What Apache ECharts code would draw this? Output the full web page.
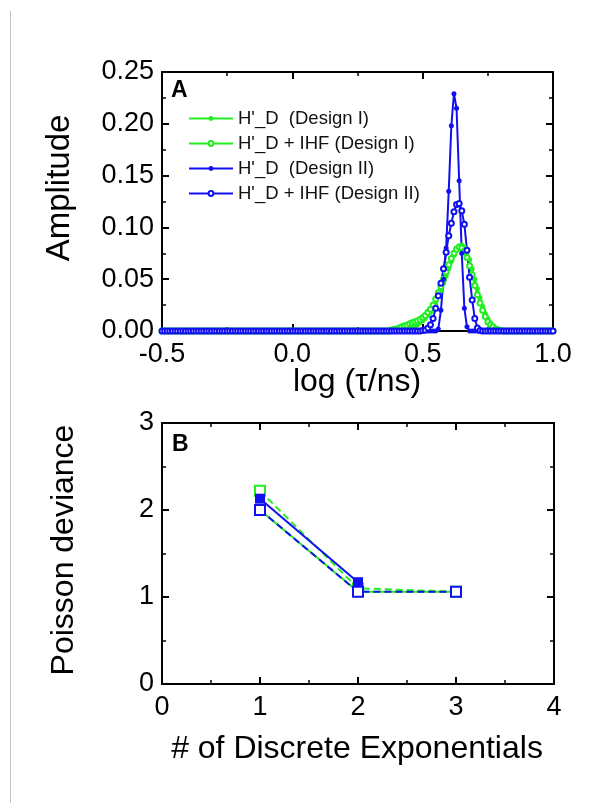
<!DOCTYPE html>
<html><head><meta charset="utf-8">
<script src="https://cdn.jsdelivr.net/npm/echarts/dist/echarts.min.js"></script>
<style>html,body{margin:0;padding:0;background:#fff}#c{width:597px;height:803px}</style>
</head><body><div id="c"></div>
<script>
// ---------- Panel A data ----------
const logTau = [
-0.50,-0.49,-0.48,-0.47,-0.46,-0.45,-0.44,-0.43,-0.42,-0.41,
-0.40,-0.39,-0.38,-0.37,-0.36,-0.35,-0.34,-0.33,-0.32,-0.31,
-0.30,-0.29,-0.28,-0.27,-0.26,-0.25,-0.24,-0.23,-0.22,-0.21,
-0.20,-0.19,-0.18,-0.17,-0.16,-0.15,-0.14,-0.13,-0.12,-0.11,
-0.10,-0.09,-0.08,-0.07,-0.06,-0.05,-0.04,-0.03,-0.02,-0.01,
0.00,0.01,0.02,0.03,0.04,0.05,0.06,0.07,0.08,0.09,
0.10,0.11,0.12,0.13,0.14,0.15,0.16,0.17,0.18,0.19,
0.20,0.21,0.22,0.23,0.24,0.25,0.26,0.27,0.28,0.29,
0.30,0.31,0.32,0.33,0.34,0.35,0.36,0.37,0.38,0.39,
0.40,0.41,0.42,0.43,0.44,0.45,0.46,0.47,0.48,0.49,
0.50,0.51,0.52,0.53,0.54,0.55,0.56,0.57,0.58,0.59,
0.60,0.61,0.62,0.63,0.64,0.65,0.66,0.67,0.68,0.69,
0.70,0.71,0.72,0.73,0.74,0.75,0.76,0.77,0.78,0.79,
0.80,0.81,0.82,0.83,0.84,0.85,0.86,0.87,0.88,0.89,
0.90,0.91,0.92,0.93,0.94,0.95,0.96,0.97,0.98,0.99,
1.00];

// H'_D (Design I)
const ampDesignI = [
0,0,0,0,0,0,0,0,0,0,
0,0,0,0,0,0,0,0,0,0,
0,0,0,0,0,0,0,0,0,0,
0,0,0,0,0,0,0,0,0,0,
0,0,0,0,0,0,0,0,0,0,
0,0,0,0,0,0,0,0,0,0,
0,0,0,0,0,0,0,0,0,0,
0,0,0,0,0,0,0,0,0,0,
0,0,0,0,0,0,0,0,0,0,
0,0,0,0,0.001,0.002,0.003,0.004,0.006,0.008,
0.010,0.012,0.015,0.018,0.022,0.027,0.033,0.039,0.046,0.053,
0.060,0.067,0.073,0.078,0.082,0.083,0.081,0.076,0.069,0.060,
0.050,0.041,0.032,0.024,0.017,0.012,0.008,0.005,0.003,0.002,
0.001,0,0,0,0,0,0,0,0,0,
0,0,0,0,0,0,0,0,0,0,
0];

// H'_D + IHF (Design I)
const ampDesignI_IHF = [
0,0,0,0,0,0,0,0,0,0,
0,0,0,0,0,0,0,0,0,0,
0,0,0,0,0,0,0,0,0,0,
0,0,0,0,0,0,0,0,0,0,
0,0,0,0,0,0,0,0,0,0,
0,0,0,0,0,0,0,0,0,0,
0,0,0,0,0,0,0,0,0,0,
0,0,0,0,0,0,0,0,0,0,
0,0,0,0,0,0,0,0,0.001,0.0015,
0.002,0.003,0.004,0.005,0.0055,0.007,0.008,0.009,0.010,0.011,
0.013,0.015,0.018,0.021,0.025,0.031,0.037,0.043,0.050,0.057,
0.064,0.070,0.075,0.079,0.081,0.080,0.077,0.071,0.063,0.054,
0.044,0.035,0.027,0.020,0.014,0.009,0.006,0.004,0.002,0.001,
0.0005,0,0,0,0,0,0,0,0,0,
0,0,0,0,0,0,0,0,0,0,
0];

// H'_D (Design II)
const ampDesignII = [
0,0,0,0,0,0,0,0,0,0,
0,0,0,0,0,0,0,0,0,0,
0,0,0,0,0,0,0,0,0,0,
0,0,0,0,0,0,0,0,0,0,
0,0,0,0,0,0,0,0,0,0,
0,0,0,0,0,0,0,0,0,0,
0,0,0,0,0,0,0,0,0,0,
0,0,0,0,0,0,0,0,0,0,
0,0,0,0,0,0,0,0,0,0,
0,0,0,0,0,0,0,0,0,0,
0,0,0,0,0,0,0.002,0.020,0.050,0.080,
0.135,0.198,0.229,0.215,0.145,0.075,0.022,0.004,0,0,
0,0,0,0,0,0,0,0,0,0,
0,0,0,0,0,0,0,0,0,0,
0,0,0,0,0,0,0,0,0,0,
0];

// H'_D + IHF (Design II)
const ampDesignII_IHF = [
0,0,0,0,0,0,0,0,0,0,
0,0,0,0,0,0,0,0,0,0,
0,0,0,0,0,0,0,0,0,0,
0,0,0,0,0,0,0,0,0,0,
0,0,0,0,0,0,0,0,0,0,
0,0,0,0,0,0,0,0,0,0,
0,0,0,0,0,0,0,0,0,0,
0,0,0,0,0,0,0,0,0,0,
0,0,0,0,0,0,0,0,0,0,
0,0,0,0,0,0,0,0,0,0,
0.0005,0.001,0.003,0.006,0.012,0.022,0.034,0.046,0.060,0.076,
0.092,0.104,0.115,0.122,0.123,0.116,0.103,0.078,0.052,0.030,
0.012,0.003,0.0005,0,0,0,0,0,0,0,
0,0,0,0,0,0,0,0,0,0,
0,0,0,0,0,0,0,0,0,0,
0];

const seriesNamesA = ["H'_D  (Design I)", "H'_D + IHF (Design I)", "H'_D  (Design II)", "H'_D + IHF (Design II)"];
const xTicksA = [-0.5, 0.0, 0.5, 1.0];
const xTickLabelsA = ['-0.5', '0.0', '0.5', '1.0'];
const yTicksA = [0, 0.05, 0.10, 0.15, 0.20, 0.25];
const yTickLabelsA = ['0.00', '0.05', '0.10', '0.15', '0.20', '0.25'];

// ---------- Panel B data ----------
const numExp = [1, 2, 3];
const devDesignI = [2.0, 1.06, 1.06];
const devDesignI_IHF = [2.22, 1.10, 1.06];
const numExpDesignII = [1, 2];
const devDesignII = [2.13, 1.17];
const devDesignII_IHF = [2.0, 1.06, 1.06];
const xTicksB = [0, 1, 2, 3, 4];
const xTickLabelsB = ['0', '1', '2', '3', '4'];
const yTicksB = [0, 1, 2, 3];
const yTickLabelsB = ['0', '1', '2', '3'];

// ---------- chart ----------
const GREEN = '#22ee22', BLUE = '#1010f0', BLACK = '#000';
const FONT = 'Liberation Sans, Arial, sans-serif';

function lookup(ticks, labels) {
  return function (v) {
    for (let i = 0; i < ticks.length; i++) if (Math.abs(ticks[i] - v) < 1e-9) return labels[i];
    return '';
  };
}
function axis(extra, showLabel, fmt, margin) {
  return Object.assign({
    type: 'value',
    axisLine: { show: true, onZero: false, lineStyle: { color: BLACK, width: 2 } },
    axisTick: { show: true, inside: true, length: 7, lineStyle: { color: BLACK, width: 2 } },
    minorTick: { show: true, splitNumber: 2, length: 4, lineStyle: { color: BLACK, width: 1.5 } },
    splitLine: { show: false },
    minorSplitLine: { show: false },
    axisLabel: { show: showLabel, color: BLACK, fontSize: 27, fontFamily: FONT, formatter: fmt, margin: margin }
  }, extra);
}
function pairs(xs, ys) { return xs.map((x, i) => [x, ys[i]]); }

const fmtXA = lookup(xTicksA, xTickLabelsA), fmtYA = lookup(yTicksA, yTickLabelsA);
const fmtXB = lookup(xTicksB, xTickLabelsB), fmtYB = lookup(yTicksB, yTickLabelsB);

const chart = echarts.init(document.getElementById('c'), null, { renderer: 'canvas' });

function lineA(name, ys, color, open) {
  return {
    name: name, type: 'line', xAxisIndex: 0, yAxisIndex: 0,
    data: pairs(logTau, ys),
    symbol: open ? 'emptyCircle' : 'circle',
    symbolSize: 5,
    showAllSymbol: true,
    lineStyle: { color: color, width: 2 },
    itemStyle: { color: color, borderWidth: 1.2 },
    emphasis: { disabled: true },
    clip: false
  };
}
function lineB(name, xs, ys, color, open) {
  return {
    name: name, type: 'line', xAxisIndex: 2, yAxisIndex: 2,
    data: pairs(xs, ys),
    symbol: open ? 'emptyRect' : 'rect',
    symbolSize: 10,
    lineStyle: { color: color, width: 2, type: open ? [7, 4] : 'solid' },
    itemStyle: { color: color, borderWidth: 1.6 },
    emphasis: { disabled: true }
  };
}

chart.setOption({
  animation: false,
  backgroundColor: '#fff',
  grid: [
    { left: 162, top: 72, width: 391, height: 259 },
    { left: 162, top: 423, width: 392, height: 261 }
  ],
  xAxis: [
    axis({ gridIndex: 0, position: 'bottom', min: -0.5, max: 1.0, interval: 0.5 }, true, fmtXA, 10),
    axis({ gridIndex: 0, position: 'top', min: -0.5, max: 1.0, interval: 0.5 }, false),
    axis({ gridIndex: 1, position: 'bottom', min: 0, max: 4, interval: 1 }, true, fmtXB, 10),
    axis({ gridIndex: 1, position: 'top', min: 0, max: 4, interval: 1 }, false)
  ],
  yAxis: [
    axis({ gridIndex: 0, position: 'left', min: 0, max: 0.25, interval: 0.05 }, true, fmtYA, 8),
    axis({ gridIndex: 0, position: 'right', min: 0, max: 0.25, interval: 0.05 }, false),
    axis({ gridIndex: 1, position: 'left', min: 0, max: 3, interval: 1 }, true, fmtYB, 8),
    axis({ gridIndex: 1, position: 'right', min: 0, max: 3, interval: 1 }, false)
  ],
  legend: {
    data: seriesNamesA,
    left: 183, top: 104, orient: 'vertical',
    itemWidth: 44, itemHeight: 6, itemGap: 6,
    textStyle: { fontSize: 18.5, fontFamily: FONT, color: '#111' },
    selectedMode: false
  },
  series: [
    lineA(seriesNamesA[0], ampDesignI, GREEN, false),
    lineA(seriesNamesA[1], ampDesignI_IHF, GREEN, true),
    lineA(seriesNamesA[2], ampDesignII, BLUE, false),
    lineA(seriesNamesA[3], ampDesignII_IHF, BLUE, true),
    lineB('B ' + seriesNamesA[0], numExp, devDesignI, GREEN, false),
    lineB('B ' + seriesNamesA[1], numExp, devDesignI_IHF, GREEN, true),
    lineB('B ' + seriesNamesA[2], numExpDesignII, devDesignII, BLUE, false),
    lineB('B ' + seriesNamesA[3], numExp, devDesignII_IHF, BLUE, true)
  ],
  graphic: [
    { type: 'line', shape: { x1: 10.5, y1: 11, x2: 10.5, y2: 803 }, style: { stroke: '#c4c4c4', lineWidth: 1 } },
    { type: 'text', style: { text: 'A', x: 171, y: 91, font: 'bold 23px ' + FONT, fill: BLACK, textVerticalAlign: 'middle' } },
    { type: 'text', style: { text: 'B', x: 172, y: 445, font: 'bold 23px ' + FONT, fill: BLACK, textVerticalAlign: 'middle' } },
    { type: 'text', x: 60, y: 188, rotation: Math.PI / 2, style: { text: 'Amplitude', x: 0, y: 0, font: '33px ' + FONT, fill: BLACK, textAlign: 'center', textVerticalAlign: 'middle' } },
    { type: 'text', style: { text: 'log (\u03c4/ns)', x: 357, y: 382, font: '32px ' + FONT, fill: BLACK, textAlign: 'center', textVerticalAlign: 'middle' } },
    { type: 'text', x: 64, y: 550, rotation: Math.PI / 2, style: { text: 'Poisson deviance', x: 0, y: 0, font: '32px ' + FONT, fill: BLACK, textAlign: 'center', textVerticalAlign: 'middle' } },
    { type: 'text', style: { text: '# of Discrete Exponentials', x: 357, y: 749, font: '32px ' + FONT, fill: BLACK, textAlign: 'center', textVerticalAlign: 'middle' } }
  ]
});
</script>
</body></html>
